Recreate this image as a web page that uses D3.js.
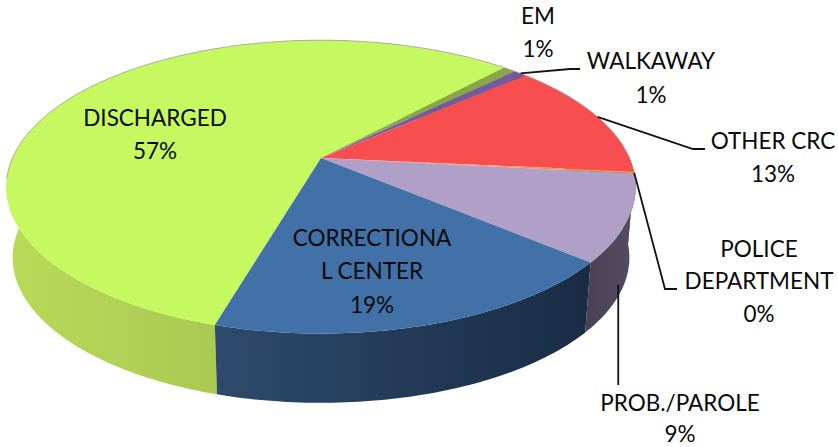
<!DOCTYPE html>
<html>
<head>
<meta charset="utf-8">
<script src="https://cdnjs.cloudflare.com/ajax/libs/d3/7.8.5/d3.min.js"></script>
<style>
html, body { margin: 0; padding: 0; background: #fff; }
svg { display: block; }
text { font-family: Lato, "Open Sans", sans-serif; font-size: 22.5px; fill: #0a0a0a; text-anchor: middle; }
</style>
</head>
<body>
<svg width="838" height="447"></svg>
<script>
// clockwise, starting at the discharged/correctional edge
const categories = ['DISCHARGED', 'EM', 'WALKAWAY', 'OTHER CRC', 'POLICE DEPARTMENT', 'PROB./PAROLE', 'CORRECTIONAL CENTER']
const shares = [57.4, 0.8, 0.8, 13.0, 0.2, 9.5, 18.3]
const pctLabels = ['57%', '1%', '1%', '13%', '0%', '9%', '19%']

const topColors = ['#c6f95f', '#8aa64c', '#7459a0', '#f94e50', '#f79646', '#b09fc6', '#4271a8']
const wallColors = [['#b9da58', '#97b24a'], ['#6d8538', '#6d8538'], ['#4e3c6c', '#4e3c6c'], ['#a33333', '#a33333'],
	['#a8632a', '#a8632a'], ['#4a4154', '#544c63'], ['#2e4a6c', '#182c44']]

// label placement: text lines, centre x, baselines, leader elbow points
const labelLines = [['DISCHARGED', '57%'], ['EM', '1%'], ['WALKAWAY', '1%'], ['OTHER CRC', '13%'],
	['POLICE', 'DEPARTMENT', '0%'], ['PROB./PAROLE', '9%'], ['CORRECTIONA', 'L CENTER', '19%']]
const labelX = [155, 538, 651, 773, 759, 680, 372]
const labelY = [[126, 159], [24, 57], [69, 103], [149, 182], [257, 289, 322], [411, 442], [246, 279, 313]]
const leaders = [null, null, [[570, 69], [580, 69]], [[693, 149], [705, 149]], [[665, 289], [677, 289]], 'down', null]

const svg = d3.select('svg')
const cx = 321
const cy = 158
const a = 308.5
const b = 141
const k = 0.197 // perspective strength
const deg = Math.PI / 180

// scales from the tilted disc onto the page
const xTop = d3.scaleLinear().domain([-1, 1]).range([cx - a, cx + a])
const yTop = d3.scaleLinear().domain([-1, 1]).range([cy - b, cy + b])
const xBot = d3.scaleLinear().domain([-1, 1]).range([cx - a * 0.98, cx + a * 0.98])
const yBot = d3.scaleLinear().domain([-1, 1]).range([229 - b * 0.99, 229 + b * 0.99])

function project(angle, r) {
	const u = r * Math.sin(angle)
	const v = -r * Math.cos(angle)
	const w = 1 - k * v
	return [u / w, v / w]
}
const onTop = (angle, r = 1) => { const p = project(angle, r); return [xTop(p[0]), yTop(p[1])] }
const onBot = (angle, r = 1) => { const p = project(angle, r); return [xBot(p[0]), yBot(p[1])] }

function rimAngles(d) {
	const n = Math.max(2, Math.ceil((d.endAngle - d.startAngle) / (1 * deg)))
	return d3.range(n + 1).map(i => d.startAngle + (d.endAngle - d.startAngle) * i / n)
}

const pie = d3.pie().sort(null).value(d => d).startAngle(196.2 * deg).endAngle(556.2 * deg)
const arcs = pie(shares)
const line = d3.line()
const defs = svg.append('defs')

wallColors.forEach((c, i) => {
	const g = defs.append('linearGradient').attr('id', 'wall' + i)
	g.append('stop').attr('offset', 0).attr('stop-color', c[0])
	g.append('stop').attr('offset', 1).attr('stop-color', c[1])
})

// walls first, the top face hides the back part of them
svg.append('g').selectAll('path')
	.data(arcs)
	.join('path')
	.attr('d', d => {
		const as = rimAngles(d)
		return line(as.map(t => onTop(t)).concat(as.slice().reverse().map(t => onBot(t)))) + 'Z'
	})
	.attr('fill', (d, i) => `url(#wall${i})`)

svg.append('g').selectAll('path')
	.data(arcs)
	.join('path')
	.attr('d', d => line([[cx, cy]].concat(rimAngles(d).map(t => onTop(t)))) + 'Z')
	.attr('fill', (d, i) => topColors[i])

// thin grey edge along the back of the disc
svg.append('path')
	.attr('fill', 'none')
	.attr('stroke', '#a8a8a8')
	.attr('stroke-width', 0.9)
	.attr('d', line(rimAngles({ startAngle: 262 * deg, endAngle: 450 * deg }).map(t => onTop(t))))

// leader lines
svg.append('g').selectAll('path')
	.data(arcs.map((d, i) => ({ d, i })).filter(e => leaders[e.i]))
	.join('path')
	.attr('fill', 'none')
	.attr('stroke', '#111')
	.attr('stroke-width', 1.8)
	.attr('d', e => {
		const mid = (e.d.startAngle + e.d.endAngle) / 2
		if (leaders[e.i] === 'down') {
			const p = onBot(mid)
			return line([[p[0] - 4, p[1] - 4], [p[0] - 4, 385]])
		}
		return line([onTop(mid)].concat(leaders[e.i]))
	})

// labels
labelLines.forEach((lines, i) => {
	lines.forEach((t, j) => {
		svg.append('text').attr('x', labelX[i]).attr('y', labelY[i][j]).text(t)
	})
})
</script>
</body>
</html>
